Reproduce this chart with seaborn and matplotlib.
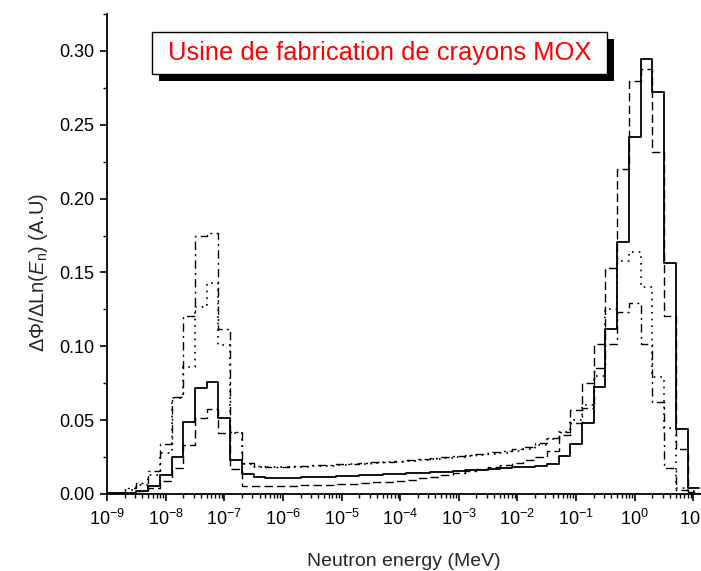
import numpy as np
import pandas as pd
import matplotlib
matplotlib.use("Agg")
import matplotlib.pyplot as plt
from matplotlib.patches import Rectangle
from matplotlib.ticker import LogLocator, MultipleLocator, NullFormatter, FixedLocator
import seaborn as sns

# log10 of bin centres (MeV), 0.2-decade bins
log_energy = [round(-9.0 + 0.2 * i, 1) for i in range(51)]

flux_solid = [0.0005, 0.0008, 0.0010, 0.0023, 0.0056, 0.0126, 0.0253, 0.0490, 0.0720, 0.0760,
              0.0512, 0.0230, 0.0133, 0.0118, 0.0110, 0.0110, 0.0110, 0.0112, 0.0115, 0.0118,
              0.0120, 0.0123, 0.0126, 0.0130, 0.0133, 0.0136, 0.0139, 0.0142, 0.0146, 0.0150,
              0.0155, 0.0160, 0.0165, 0.0170, 0.0175, 0.0180, 0.0185, 0.0190, 0.0200, 0.0257,
              0.0336, 0.0483, 0.0727, 0.1117, 0.1708, 0.2419, 0.2943, 0.2720, 0.1562, 0.0438,
              0.0039]
flux_dashed = [0.0003, 0.0005, 0.0010, 0.0020, 0.0038, 0.0088, 0.0178, 0.0330, 0.0517, 0.0573,
               0.0410, 0.0167, 0.0056, 0.0054, 0.0054, 0.0055, 0.0056, 0.0058, 0.0060, 0.0063,
               0.0066, 0.0070, 0.0074, 0.0078, 0.0083, 0.0090, 0.0098, 0.0107, 0.0117, 0.0128,
               0.0140, 0.0153, 0.0167, 0.0182, 0.0197, 0.0212, 0.0230, 0.0250, 0.0290, 0.0400,
               0.0570, 0.0750, 0.1016, 0.1528, 0.2200, 0.2796, 0.2875, 0.2318, 0.1205, 0.0303,
               0.0016]
flux_dotted = [0.0005, 0.0010, 0.0030, 0.0060, 0.0130, 0.0280, 0.0650, 0.0862, 0.1268, 0.1426,
               0.1009, 0.0410, 0.0200, 0.0185, 0.0180, 0.0180, 0.0182, 0.0185, 0.0188, 0.0192,
               0.0196, 0.0200, 0.0205, 0.0210, 0.0215, 0.0220, 0.0226, 0.0232, 0.0238, 0.0244,
               0.0250, 0.0257, 0.0264, 0.0272, 0.0280, 0.0290, 0.0305, 0.0330, 0.0370, 0.0420,
               0.0500, 0.0600, 0.0800, 0.1250, 0.1580, 0.1637, 0.1400, 0.0790, 0.0450, 0.0040,
               0.0020]
flux_dashdot = [0.0005, 0.0010, 0.0038, 0.0072, 0.0158, 0.0336, 0.0659, 0.1207, 0.1749, 0.1769,
                0.1115, 0.0418, 0.0208, 0.0188, 0.0185, 0.0185, 0.0187, 0.0190, 0.0193, 0.0197,
                0.0201, 0.0205, 0.0210, 0.0215, 0.0220, 0.0226, 0.0232, 0.0238, 0.0244, 0.0251,
                0.0258, 0.0266, 0.0274, 0.0283, 0.0293, 0.0305, 0.0320, 0.0343, 0.0380, 0.0420,
                0.0480, 0.0580, 0.0850, 0.1016, 0.1234, 0.1290, 0.1016, 0.0625, 0.0176, 0.0030,
                0.0005]

y_ticks = [0.00, 0.05, 0.10, 0.15, 0.20, 0.25, 0.30]
title_text = "Usine de fabrication de crayons MOX"

sns.set_style("ticks")
plt.rcParams["font.family"] = ["Liberation Sans", "DejaVu Sans"]
plt.rcParams["mathtext.fontset"] = "custom"
plt.rcParams["mathtext.rm"] = "Liberation Sans"
plt.rcParams["mathtext.it"] = "Liberation Sans:italic"

energy = 10.0 ** np.array(log_energy)
df = pd.DataFrame({"energy": energy, "solid": flux_solid, "dashed": flux_dashed,
                   "dotted": flux_dotted, "dashdot": flux_dashdot})

W, H = 701, 571
fig = plt.figure(figsize=(W / 100, H / 100), dpi=100)
ax = fig.add_axes([107 / W, 77 / H, 594 / W, 480 / H])

styles = {
    "solid": dict(linestyle="-", linewidth=1.3),
    "dashed": dict(linestyle=(0, (6, 3)), linewidth=1.0),
    "dotted": dict(linestyle=(0, (1, 3)), linewidth=1.2),
    "dashdot": dict(linestyle=(0, (6, 3, 1.5, 3)), linewidth=1.0),
}
for col in ["solid", "dashed", "dotted", "dashdot"]:
    sns.histplot(data=df, x="energy", weights=col, log_scale=True,
                 binrange=(-9.1, 1.1), binwidth=0.2, element="step", fill=False,
                 color="black", ax=ax, **styles[col])

ax.set_xlim(10 ** -9.0, 10 ** 1.13)
ax.set_ylim(0, 0.325)
ax.xaxis.set_major_locator(LogLocator(base=10, numticks=20))
ax.xaxis.set_minor_locator(LogLocator(base=10, subs=np.arange(2, 10), numticks=20))
ax.xaxis.set_minor_formatter(NullFormatter())
ax.yaxis.set_major_locator(FixedLocator(y_ticks))
ax.yaxis.set_minor_locator(MultipleLocator(0.025))
ax.set_yticklabels([f"{v:.2f}" for v in y_ticks])

sns.despine(ax=ax)
for s in ["left", "bottom"]:
    ax.spines[s].set_linewidth(1.3)
    ax.spines[s].set_color("black")
ax.tick_params(which="major", direction="out", length=5, width=1.2, labelsize=13,
               colors="black", pad=4)
ax.tick_params(which="minor", direction="out", length=3, width=1.0, colors="black")
ax.tick_params(axis="x", which="major", pad=6)

ax.set_xlabel("Neutron energy (MeV)", fontsize=14, labelpad=17)
ax.set_ylabel(r"$\Delta\Phi/\Delta$Ln($\it{E}_{\rm n}$) (A.U)", fontsize=14.5)
ax.yaxis.set_label_coords((50 - 107) / 594, (494 - 272) / 480)

# framed label with a black drop shadow, placed in figure pixels
box_l, box_t, box_r, box_b = 152, 32, 607, 74
shadow_off = 7
fig.patches.append(Rectangle(((box_l + shadow_off) / W, (H - box_b - shadow_off) / H),
                             (box_r - box_l) / W, (box_b - box_t) / H,
                             transform=fig.transFigure, facecolor="black",
                             edgecolor="none", zorder=3))
fig.patches.append(Rectangle((box_l / W, (H - box_b) / H),
                             (box_r - box_l) / W, (box_b - box_t) / H,
                             transform=fig.transFigure, facecolor="white",
                             edgecolor="black", linewidth=1.0, zorder=4))
fig.text((box_l + box_r) / 2 / W, (H - (box_t + box_b) / 2) / H, title_text,
         ha="center", va="center", color="red", fontsize=18.4, zorder=5)

fig.savefig("out.png", dpi=100)
